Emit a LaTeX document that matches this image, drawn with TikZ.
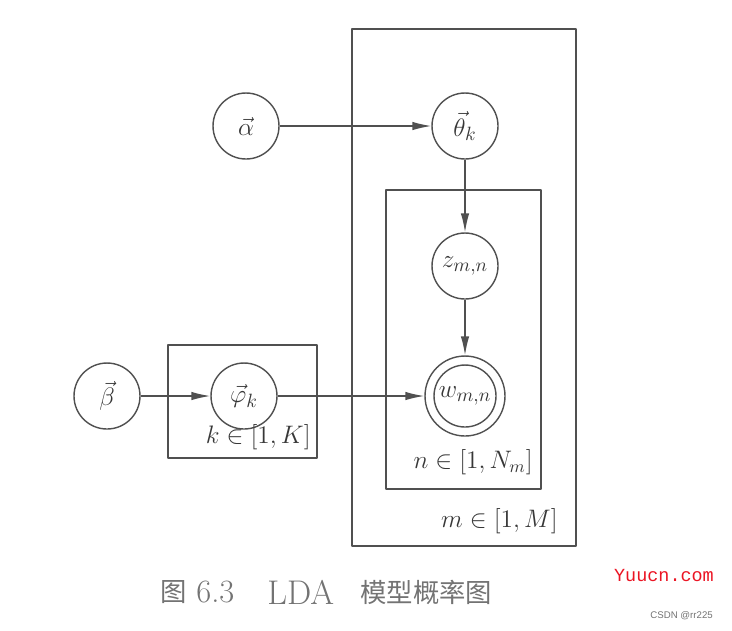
\documentclass[tikz,border=0pt]{standalone}
\usepackage{amsmath}
\usepackage{fontspec}
\usepackage{tikz}
\usetikzlibrary{arrows.meta}
\newfontfamily\cjk{Noto Sans CJK SC}
\newfontfamily\wmmono{Liberation Mono}
\newfontfamily\wmsans{Liberation Sans}
\definecolor{cline}{RGB}{80,80,80}
\definecolor{ctext}{RGB}{55,55,55}
\definecolor{ccap}{RGB}{115,115,115}
\definecolor{cmark}{RGB}{235,20,35}
\tikzset{
  latent/.style={circle,draw=cline,line width=0.8pt,minimum size=1.32cm,inner sep=0pt,
    font=\fontsize{15.5}{18}\selectfont},
  observed/.style={latent,minimum size=1.60cm},
  plate/.style={draw=cline,line width=0.8pt},
  platelabel/.style={anchor=east,inner sep=0pt},
  edge/.style={->,draw=cline,line width=0.8pt}}

\begin{document}
\begin{tikzpicture}[x=0.02cm,y=-0.02cm,line cap=butt,line join=round,
  >={Latex[length=0.38cm,width=0.17cm]},
  every node/.append style={font=\fontsize{14}{17}\selectfont,text=ctext}]

\useasboundingbox (0,0) rectangle (732,630);

% =============================== plates ===============================
\draw[plate] (352,29)  rectangle (576,546);   % m
\draw[plate] (386,190) rectangle (541,489);   % n
\draw[plate] (168,345) rectangle (317,458);   % k

% =============================== nodes ================================
\node[latent]   (alpha) at (246,126) {$\vec{\alpha}$};
\node[latent]   (theta) at (465,126) {$\vec{\theta}_k$};
\node[latent]   (z)     at (465,266) {$z_{m,n}$};
\node[observed] (w)     at (465,396) {$w_{m,n}$};
\node[latent]   (beta)  at (107,396) {$\vec{\beta}$};
\node[latent]   (phi)   at (244,396) {$\vec{\varphi}_k$};
\draw[cline,line width=0.8pt] (w.center) circle[radius=0.62cm];

% =============================== edges ================================
\draw[edge] (alpha) -- (theta);
\draw[edge] (theta) -- (z);
\draw[edge] (z) -- (w);
\draw[edge] (beta) -- (phi);
\draw[edge] (phi) -- (w);

% =============================== labels ===============================
\node[platelabel] (klab) at (311,437) {$k\in[1,K]$};
\node[platelabel] (nlab) at (533,462) {$n\in[1,N_m]$};
\node[platelabel] (mlab) at (558,521) {$m\in[1,M]$};

% caption and marks
\node[anchor=west,text=ccap,font=\fontsize{15}{18}\selectfont,inner sep=0pt] (capa) at (160,592) {\cjk 图};
\node[anchor=west,text=ccap,font=\fontsize{18.5}{22}\selectfont,inner sep=0pt] (capb) at (196,592) {6.3};
\node[anchor=west,text=ccap,font=\fontsize{19.5}{23}\selectfont,inner sep=0pt] (capc) at (267,592) {LDA};
\node[anchor=west,text=ccap,font=\fontsize{15}{18}\selectfont,inner sep=0pt] (capd) at (360,592) {\cjk 模型概率图};
\node[anchor=east,text=cmark,font=\wmmono\fontsize{10.5}{12}\selectfont] (yuucn) at (720,575) {Yuucn.com};
\node[anchor=east,text=ccap,font=\wmsans\fontsize{5.5}{7}\selectfont] (csdn) at (719,616) {CSDN @rr225};

\end{tikzpicture}
\end{document}
